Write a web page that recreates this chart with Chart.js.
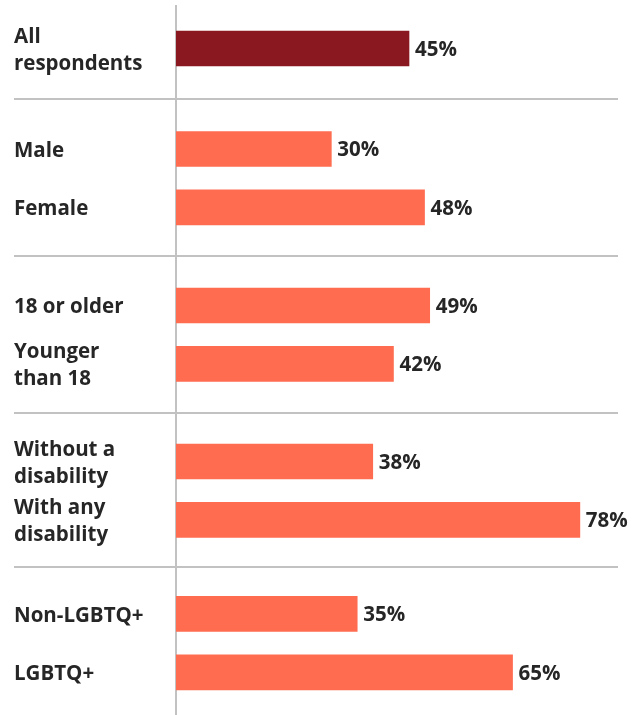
<!DOCTYPE html>
<html>
<head>
<meta charset="utf-8">
<script src="https://cdn.jsdelivr.net/npm/chart.js@4/dist/chart.umd.min.js"></script>
<style>
  html, body { margin: 0; padding: 0; background: #ffffff; }
  #wrap { position: relative; width: 642px; height: 715px; }
</style>
</head>
<body>
<div id="wrap"><canvas id="chart"></canvas></div>
<script>
// Share of respondents, by group
const groups = [
  ['All respondents'],
  ['Male', 'Female'],
  ['18 or older', 'Younger than 18'],
  ['Without a disability', 'With any disability'],
  ['Non-LGBTQ+', 'LGBTQ+']
];
const labelLines = {
  'All respondents': ['All', 'respondents'],
  'Younger than 18': ['Younger', 'than 18'],
  'Without a disability': ['Without a', 'disability'],
  'With any disability': ['With any', 'disability']
};
const values = [45, 30, 48, 49, 42, 38, 78, 35, 65];

const TOTAL_COLOR = '#8A1820';
const BAR_COLOR = '#FF6C50';
const RULE_COLOR = '#C2C2C2';
const TEXT_COLOR = '#262626';
const FONT = "'Open Sans', 'Noto Sans', sans-serif";
const FONT_SIZE = 20.5;
const FONT_WEIGHT = '700';

// Rows sit one unit apart on a numeric index axis; extra space opens before each new group
const GROUP_GAPS = [0.72, 0.68, 0.67, 0.61];
const categories = [];
const rowPos = [];
const separators = [];
let pos = 0;
groups.forEach((g, gi) => {
  if (gi > 0) {
    const gap = GROUP_GAPS[gi - 1];
    separators.push(pos - 1 + (1 + gap) / 2);
    pos += gap;
  }
  g.forEach(name => {
    categories.push(name);
    rowPos.push(pos);
    pos += 1;
  });
});
const lastPos = rowPos[rowPos.length - 1];

const separatorPlugin = {
  id: 'groupRules',
  beforeDatasetsDraw(chart) {
    const { ctx, scales: { y } } = chart;
    ctx.save();
    ctx.strokeStyle = RULE_COLOR;
    ctx.lineWidth = 2;
    separators.forEach(s => {
      const py = Math.round(y.getPixelForValue(s));
      ctx.beginPath();
      ctx.moveTo(14, py);
      ctx.lineTo(618, py);
      ctx.stroke();
    });
    ctx.restore();
  }
};

const valueLabelPlugin = {
  id: 'valueLabels',
  afterDatasetsDraw(chart) {
    const { ctx } = chart;
    const meta = chart.getDatasetMeta(0);
    ctx.save();
    ctx.font = `${FONT_WEIGHT} ${FONT_SIZE}px ${FONT}`;
    ctx.fillStyle = TEXT_COLOR;
    ctx.textAlign = 'left';
    ctx.textBaseline = 'middle';
    meta.data.forEach((bar, i) => {
      ctx.fillText(values[i] + '%', bar.x + 6, bar.y + 1.5);
    });
    ctx.restore();
  }
};

new Chart(document.getElementById('chart'), {
  type: 'bar',
  data: {
    datasets: [{
      data: values.map((v, i) => ({ x: v, y: rowPos[i] })),
      backgroundColor: values.map((v, i) => i === 0 ? TOTAL_COLOR : BAR_COLOR),
      barThickness: 35,
      borderWidth: 0
    }]
  },
  options: {
    indexAxis: 'y',
    responsive: true,
    maintainAspectRatio: false,
    animation: false,
    events: [],
    layout: { padding: { top: 6, left: 14, right: 0, bottom: 0 } },
    plugins: { legend: { display: false }, tooltip: { enabled: false } },
    scales: {
      x: {
        type: 'linear',
        min: 0,
        max: 90,
        display: false
      },
      y: {
        type: 'linear',
        reverse: true,
        offset: false,
        min: -0.728,
        max: lastPos + 0.731,
        afterBuildTicks(scale) {
          scale.ticks = rowPos.map(v => ({ value: v }));
        },
        afterFit(scale) {
          scale.width = 162;
          scale.paddingTop = 0;
          scale.paddingBottom = 0;
        },
        grid: { display: false, drawTicks: false },
        border: { display: true, color: RULE_COLOR, width: 2 },
        ticks: {
          autoSkip: false,
          crossAlign: 'far',
          padding: 0,
          labelOffset: 2,
          color: TEXT_COLOR,
          font: { family: FONT, size: FONT_SIZE, weight: FONT_WEIGHT, lineHeight: 1.3 },
          callback(value) {
            const i = rowPos.indexOf(value);
            const name = categories[i];
            return labelLines[name] || name;
          }
        }
      }
    }
  },
  plugins: [separatorPlugin, valueLabelPlugin]
});
</script>
</body>
</html>
